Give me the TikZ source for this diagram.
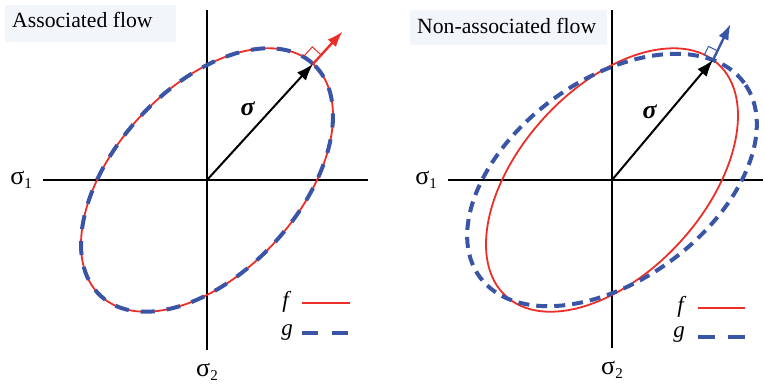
\documentclass[tikz,border=0pt]{standalone}
\usepackage{fontspec}
\setmainfont{Liberation Serif}
\usetikzlibrary{arrows.meta,positioning,calc}
\definecolor{fred}{RGB}{236,46,40}
\definecolor{gblue}{RGB}{58,84,166}
\definecolor{titlebg}{RGB}{242,245,250}
\newcommand{\lowidx}[1]{\raisebox{-0.3ex}{\fontsize{15pt}{15pt}\selectfont #1}}

\begin{document}
\begin{tikzpicture}[
  x=1pt, y=1pt,
  axis/.style={line width=2.1pt},
  fcurve/.style={draw=fred, line width=1.8pt},
  gcurve/.style={draw=gblue, line width=4pt},
  sigarr/.style={-{Latex[length=17pt,width=12pt]}, line width=2pt},
  narr/.style={-{Latex[length=16pt,width=11pt]}, line width=2.4pt},
  corner/.style={line width=1pt},
  title/.style={anchor=base west, inner sep=0pt, font=\fontsize{21.7pt}{24pt}\selectfont},
  lab/.style={inner sep=0pt, font=\fontsize{23pt}{24pt}\selectfont},
  axlab/.style={inner sep=0pt, font=\fontsize{26pt}{28pt}\selectfont}
]
  \useasboundingbox (0,0) rectangle (764,385);

  % left panel: associated flow
  \fill[titlebg] (5,343) rectangle (176,380);
  \node[title] (t1) at (12,357) {Associated flow};
  \coordinate (O1) at (207,205);
  \coordinate (v1a) at (207,375);
  \coordinate (v1b) at (207,35);
  \coordinate (h1a) at (43,205);
  \coordinate (h1b) at (368,205);
  \draw[axis] (v1a) -- (v1b);
  \draw[axis] (h1a) -- (h1b);
  \node[axlab, left=11pt of h1a] (s11) {σ\lowidx{1}};
  \node[axlab, below=13pt of v1b] (s12) {σ\lowidx{2}};

  \draw[fcurve, rotate around={47.6:(O1)}] (O1) ellipse [x radius=157.3pt, y radius=92.1pt];
  \draw[gcurve, dash pattern=on 14pt off 12pt, rotate around={47.6:(O1)}] (O1) ellipse [x radius=157.3pt, y radius=92.1pt];

  \coordinate (P1) at ($(O1)+(47.6:157.3)$);
  \coordinate (N1) at ($(P1)+(47.6:44)$);
  \draw[corner, fred] ($(P1)+(47.6:12)$) -- ++(137.6:12) -- ++(227.6:12);
  \draw[narr, fred] (P1) -- (N1);
  \draw[sigarr] (O1) -- (P1);
  \node[axlab] (sig1) at (248,276) {\textbf{\textit{σ}}};

  \node[lab, anchor=base] (f1) at (287,77) {\textit{f}};
  \node[lab, anchor=base] (g1) at (287,49) {\textit{g}};
  \coordinate (f1a) at (302,82);
  \coordinate (f1b) at (350,82);
  \coordinate (g1a) at (302,52);
  \coordinate (g1b) at (348,52);
  \draw[fcurve] (f1a) -- (f1b);
  \draw[gcurve, dash pattern=on 16pt off 14pt] (g1a) -- (g1b);

  % right panel: non-associated flow
  \fill[titlebg] (410,340) rectangle (607,375);
  \node[title] (t2) at (417,351) {Non-associated flow};
  \coordinate (O2) at (612,205);
  \coordinate (v2a) at (612,375);
  \coordinate (v2b) at (612,37);
  \coordinate (h2a) at (448,205);
  \coordinate (h2b) at (763,205);
  \draw[axis] (v2a) -- (v2b);
  \draw[axis] (h2a) -- (h2b);
  \node[axlab, left=11pt of h2a] (s21) {σ\lowidx{1}};
  \node[axlab, below=13pt of v2b] (s22) {σ\lowidx{2}};

  \draw[fcurve, rotate around={47.6:(O2)}] (O2) ellipse [x radius=157.3pt, y radius=92.1pt];
  \draw[gcurve, dash pattern=on 11pt off 7pt, rotate around={36.3:(O2)}] (O2) ellipse [x radius=164pt, y radius=100pt];

  \coordinate (P2) at ($(O2)+(101.1,120.2)$);
  \coordinate (N2) at ($(P2)+(64:40)$);
  \draw[corner, gblue] ($(P2)+(64:10)$) -- ++(154:10) -- ++(244:10);
  \draw[narr, gblue] (P2) -- (N2);
  \draw[sigarr] (O2) -- (P2);
  \node[axlab] (sig2) at (650,273) {\textbf{\textit{σ}}};

  \node[lab, anchor=base] (f2) at (682,72) {\textit{f}};
  \node[lab, anchor=base] (g2) at (679,47) {\textit{g}};
  \coordinate (f2a) at (698,77);
  \coordinate (f2b) at (745,77);
  \coordinate (g2a) at (698,48);
  \coordinate (g2b) at (745,48);
  \draw[fcurve] (f2a) -- (f2b);
  \draw[gcurve, dash pattern=on 17pt off 13pt] (g2a) -- (g2b);
\end{tikzpicture}
\end{document}
